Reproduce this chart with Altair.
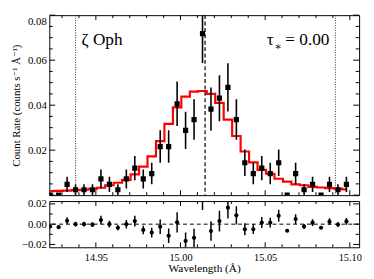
import altair as alt
import pandas as pd

# ---------------- data ----------------
wavelength = [14.923, 14.928, 14.933, 14.938, 14.943, 14.948, 14.953, 14.958, 14.963,
              14.968, 14.973, 14.978, 14.983, 14.988, 14.993, 14.998, 15.003, 15.008,
              15.013, 15.018, 15.023, 15.028, 15.033, 15.038, 15.043, 15.048, 15.053,
              15.058, 15.063, 15.068, 15.073, 15.078, 15.083, 15.088, 15.093, 15.098]
rate = [0.0, 0.0, 0.0048, 0.0024, 0.0024, 0.0024, 0.0072, 0.0048, 0.0024,
        0.0072, 0.0120, 0.0072, 0.0096, 0.0216, 0.0216, 0.0406, 0.0288, 0.0336,
        0.0718, 0.0382, 0.0431, 0.0479, 0.0336, 0.0144, 0.0096, 0.0120, 0.0096,
        0.0144, 0.0, 0.0096, 0.0024, 0.0048, 0.0, 0.0048, 0.0024, 0.0048]
rate_err = [0.0, 0.0, 0.0034, 0.0024, 0.0024, 0.0024, 0.0042, 0.0034, 0.0024,
            0.0042, 0.0054, 0.0042, 0.0048, 0.0072, 0.0072, 0.0099, 0.0083, 0.0090,
            0.0131, 0.0096, 0.0102, 0.0107, 0.0090, 0.0059, 0.0048, 0.0054, 0.0048,
            0.0059, 0.0, 0.0048, 0.0024, 0.0034, 0.0, 0.0034, 0.0024, 0.0034]
model = [0.0018, 0.0019, 0.0020, 0.0022, 0.0024, 0.0028, 0.0033, 0.0044, 0.0055,
         0.0068, 0.0092, 0.0127, 0.0172, 0.0240, 0.0317, 0.0390, 0.0438, 0.0460,
         0.0463, 0.0450, 0.0410, 0.0336, 0.0263, 0.0194, 0.0146, 0.0112, 0.0095,
         0.0073, 0.0060, 0.0048, 0.0044, 0.0037, 0.0034, 0.0031, 0.0029, 0.0026]
residual = [-0.0023, -0.0030, 0.0033, 0.0000, 0.0000, -0.0005, 0.0040, 0.0000, -0.0035,
            0.0000, 0.0030, -0.0057, -0.0083, -0.0025, -0.0115, 0.0018, -0.0165, -0.0135,
            0.0270, -0.0068, 0.0030, 0.0163, 0.0087, -0.0050, -0.0050, 0.0016, 0.0016,
            0.0083, -0.0065, 0.0050, -0.0023, 0.0015, -0.0035, 0.0025, -0.0003, 0.0027]

line_center = [15.0145]
velocity_limits = [14.938, 15.0915]
zero_level = [0.0]

x_major = [14.95, 15.00, 15.05, 15.10]
x_minor = [14.93, 14.94, 14.96, 14.97, 14.98, 14.99, 15.01, 15.02, 15.03, 15.04,
           15.06, 15.07, 15.08, 15.09]
top_y_labels = [0.02, 0.04, 0.06, 0.08]
top_y_major = [0.0, 0.02, 0.04, 0.06, 0.08]
top_y_minor = [0.005, 0.01, 0.015, 0.025, 0.03, 0.035, 0.045, 0.05, 0.055,
               0.065, 0.07, 0.075]
bot_y_major = [-0.02, 0.0, 0.02]
bot_y_minor = [-0.01, 0.01]

star_name = "ζ Oph"
tau_symbol = "τ"
tau_sub = "∗"
tau_value = "= 0.00"
y_title = "Count Rate (counts s⁻¹ Å⁻¹)"
x_title = "Wavelength (Å)"

# ---------------- layout ----------------
W = 315
H_TOP = 183
H_BOT = 47
FONT = "Liberation Serif, Times New Roman, DejaVu Serif, serif"

df = pd.DataFrame({"wl": wavelength, "rate": rate, "err": rate_err,
                   "model": model, "res": residual})
df["lo"] = df["rate"] - df["err"]
df["hi"] = df["rate"] + df["err"]
df["rlo"] = df["res"] - df["err"]
df["rhi"] = df["res"] + df["err"]
df_err = df[df["err"] > 0]

xs = alt.Scale(domain=[14.9225, 15.1055], nice=False, zero=False)
ys_top = alt.Scale(domain=[0.0, 0.08], nice=False, zero=False)
ys_bot = alt.Scale(domain=[-0.0228, 0.0228], nice=False, zero=False)

y_top_axis = alt.Axis(values=top_y_labels, format=".2f", ticks=False, domain=False,
                      grid=False, labelPadding=3, labelFontSize=11,
                      labelBaseline={"expr": "datum.value > 0.07 ? 'top' : 'middle'"},
                      title=y_title, titlePadding=6, titleFontSize=11)
y_bot_axis = alt.Axis(values=bot_y_major, format=".2f", ticks=False, domain=False,
                      grid=False, labelPadding=3, labelFontSize=11, title=None)
x_bot_axis = alt.Axis(values=x_major, format=".2f", ticks=False, domain=False,
                      grid=False, labelPadding=5, labelFontSize=10.5, labelFlush=False,
                      title=x_title, titlePadding=0, titleFontSize=11.5)


def x_ticks(vals, length, h, axis):
    d = pd.DataFrame({"wl": vals})
    base = alt.Chart(d).mark_rule(color="black", strokeWidth=1)
    xe = alt.X("wl:Q", scale=xs, axis=axis)
    return (base.encode(x=xe, y=alt.value(0), y2=alt.value(length)) +
            base.encode(x=xe, y=alt.value(h - length), y2=alt.value(h)))


def y_ticks(vals, length, yscale, field, axis):
    d = pd.DataFrame({field: vals})
    base = alt.Chart(d).mark_rule(color="black", strokeWidth=1)
    ye = alt.Y(f"{field}:Q", scale=yscale, axis=axis)
    return (base.encode(y=ye, x=alt.value(0), x2=alt.value(length)) +
            base.encode(y=ye, x=alt.value(W - length), x2=alt.value(W)))


# ---------------- top panel ----------------
xt = alt.X("wl:Q", scale=xs, axis=None)
base_top = alt.Chart(df)

model_line = base_top.mark_line(interpolate="step", color="#ff0000", strokeWidth=2.2,
                                clip=True).encode(
    x=xt, y=alt.Y("model:Q", scale=ys_top, axis=y_top_axis))
err_top = alt.Chart(df_err).mark_rule(color="black", strokeWidth=1.6, clip=True).encode(
    x=xt, y=alt.Y("lo:Q", scale=ys_top, axis=y_top_axis), y2="hi:Q")
pts_top = base_top.mark_square(size=28, color="black", opacity=1, clip=True).encode(
    x=xt, y=alt.Y("rate:Q", scale=ys_top, axis=y_top_axis))
dotted = alt.Chart(pd.DataFrame({"wl": velocity_limits})).mark_rule(
    color="#333333", strokeWidth=1, strokeDash=[1, 1.5]).encode(x=xt)
dashed = alt.Chart(pd.DataFrame({"wl": line_center})).mark_rule(
    color="black", strokeWidth=1.2, strokeDash=[4, 2.5]).encode(x=xt)


def label(txt, x, y, size):
    return alt.Chart(pd.DataFrame({"t": [txt]})).mark_text(
        align="left", baseline="alphabetic", font=FONT, fontSize=size,
        color="black").encode(x=alt.value(x), y=alt.value(y), text="t:N")


texts = (label(star_name, 32.7, 30.7, 17.5) + label(tau_symbol, 221, 30.7, 17.5) +
         label(tau_sub, 229, 35.5, 11) + label(tau_value, 240, 30.7, 17.5))

top = alt.layer(
    model_line, err_top, pts_top, dotted, dashed, texts,
    x_ticks(x_major, 5, H_TOP, None), x_ticks(x_minor, 3, H_TOP, None),
    y_ticks(top_y_major, 6, ys_top, "model", y_top_axis),
    y_ticks(top_y_minor, 3.5, ys_top, "model", y_top_axis),
).properties(width=W, height=H_TOP)

# ---------------- bottom panel ----------------
xb = alt.X("wl:Q", scale=xs, axis=x_bot_axis)
zero_line = alt.Chart(pd.DataFrame({"res": zero_level})).mark_rule(
    color="black", strokeWidth=1, strokeDash=[4, 3]).encode(
    y=alt.Y("res:Q", scale=ys_bot, axis=y_bot_axis))
err_bot = alt.Chart(df_err).mark_rule(color="black", strokeWidth=1.5, clip=True).encode(
    x=xb, y=alt.Y("rlo:Q", scale=ys_bot, axis=y_bot_axis), y2="rhi:Q")
pts_bot = alt.Chart(df).mark_circle(size=18, color="black", opacity=1, clip=True).encode(
    x=xb, y=alt.Y("res:Q", scale=ys_bot, axis=y_bot_axis))

bottom = alt.layer(
    zero_line, err_bot, pts_bot,
    x_ticks(x_major, 5, H_BOT, x_bot_axis), x_ticks(x_minor, 3, H_BOT, x_bot_axis),
    y_ticks(bot_y_major, 6, ys_bot, "res", y_bot_axis),
    y_ticks(bot_y_minor, 3.5, ys_bot, "res", y_bot_axis),
).properties(width=W, height=H_BOT)

chart = alt.vconcat(top, bottom, spacing=0).configure_view(
    stroke="black", strokeWidth=1
).configure_axis(
    labelFont=FONT, titleFont=FONT, labelColor="black", titleColor="black",
    titleFontWeight="normal"
).properties(
    padding={"left": 2, "top": 3, "right": 4, "bottom": 4}, background="white"
)

chart.save("out.html", embed_options={"renderer": "svg", "actions": False})
